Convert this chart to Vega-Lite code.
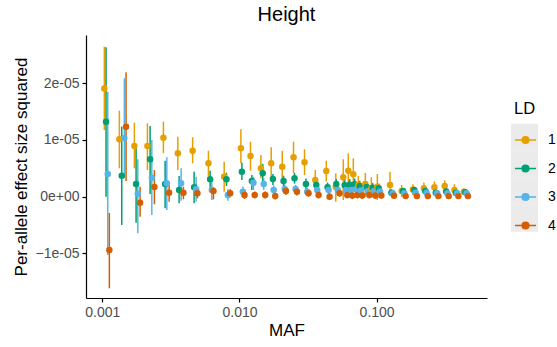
{
"$schema": "https://vega.github.io/schema/vega-lite/v6.json",
"width": 401,
"height": 263,
"autosize": {"type": "none"},
"padding": {"left": 86, "top": 35, "right": 70, "bottom": 49},
"background": "white",
"config": {"font": "Liberation Sans", "view": {"stroke": null}},
"title": {"text": "Height", "fontSize": 20, "fontWeight": "normal", "color": "black", "anchor": "middle", "offset": 10},
"data": {"values": [
{"ld":"1","maf":0.001034,"v":1.91e-5,"lo":1.176e-5,"hi":2.646e-5},
{"ld":"2","maf":0.001064,"v":1.32e-5,"lo":0,"hi":2.635e-5},
{"ld":"3","maf":0.001095,"v":0.40e-5,"lo":-1.028e-5,"hi":1.852e-5},
{"ld":"4","maf":0.001125,"v":-0.94e-5,"lo":-1.616e-5,"hi":-0.287e-5},
{"ld":"1","maf":0.001331,"v":1.012e-5,"lo":0.50e-5,"hi":1.517e-5},
{"ld":"2","maf":0.001385,"v":0.37e-5,"lo":-0.50e-5,"hi":1.235e-5},
{"ld":"3","maf":0.001447,"v":1.035e-5,"lo":0.33e-5,"hi":2.088e-5},
{"ld":"4","maf":0.001489,"v":1.235e-5,"lo":0.277e-5,"hi":2.194e-5},
{"ld":"1","maf":0.001712,"v":0.894e-5,"lo":0.50e-5,"hi":1.305e-5},
{"ld":"2","maf":0.001762,"v":0.224e-5,"lo":-0.459e-5,"hi":0.894e-5},
{"ld":"3","maf":0.001813,"v":0.05e-5,"lo":-0.645e-5,"hi":0.66e-5},
{"ld":"4","maf":0.001885,"v":-0.106e-5,"lo":-0.353e-5,"hi":0.176e-5},
{"ld":"1","maf":0.002131,"v":0.894e-5,"lo":0.47e-5,"hi":1.294e-5},
{"ld":"2","maf":0.002230,"v":0.66e-5,"lo":0.048e-5,"hi":1.247e-5},
{"ld":"3","maf":0.002295,"v":0.335e-5,"lo":-0.323e-5,"hi":1.0e-5},
{"ld":"4","maf":0.002397,"v":0.171e-5,"lo":-0.134e-5,"hi":0.47e-5},
{"ld":"1","maf":0.002788,"v":1.04e-5,"lo":0.767e-5,"hi":1.323e-5},
{"ld":"2","maf":0.002869,"v":0.224e-5,"lo":-0.205e-5,"hi":0.635e-5},
{"ld":"3","maf":0.002952,"v":0.236e-5,"lo":-0.235e-5,"hi":0.694e-5},
{"ld":"4","maf":0.003069,"v":0.071e-5,"lo":-0.088e-5,"hi":0.206e-5},
{"ld":"1","maf":0.003552,"v":0.765e-5,"lo":0.47e-5,"hi":1.058e-5},
{"ld":"2","maf":0.003630,"v":0.118e-5,"lo":-0.117e-5,"hi":0.365e-5},
{"ld":"3","maf":0.003754,"v":0.236e-5,"lo":-0.07e-5,"hi":0.50e-5},
{"ld":"4","maf":0.003901,"v":0.071e-5,"lo":-0.046e-5,"hi":0.176e-5},
{"ld":"1","maf":0.004553,"v":0.811e-5,"lo":0.589e-5,"hi":1.048e-5},
{"ld":"2","maf":0.004669,"v":0.166e-5,"lo":-0.117e-5,"hi":0.441e-5},
{"ld":"3","maf":0.004829,"v":0.13e-5,"lo":-0.088e-5,"hi":0.35e-5},
{"ld":"4","maf":0.004935,"v":0.06e-5,"lo":-0.03e-5,"hi":0.15e-5},
{"ld":"1","maf":0.005937,"v":0.589e-5,"lo":0.353e-5,"hi":0.811e-5},
{"ld":"2","maf":0.006109,"v":0.307e-5,"lo":0.148e-5,"hi":0.459e-5},
{"ld":"3","maf":0.006286,"v":0.118e-5,"lo":-0.06e-5,"hi":0.30e-5},
{"ld":"4","maf":0.006458,"v":0.10e-5,"lo":-0.046e-5,"hi":0.166e-5},
{"ld":"1","maf":0.007733,"v":0.353e-5,"lo":0.088e-5,"hi":0.617e-5},
{"ld":"2","maf":0.008038,"v":0.307e-5,"lo":0.189e-5,"hi":0.423e-5},
{"ld":"3","maf":0.008229,"v":0.03e-5,"lo":-0.07e-5,"hi":0.13e-5},
{"ld":"4","maf":0.008553,"v":0.06e-5,"lo":-0.01e-5,"hi":0.13e-5},
{"ld":"1","maf":0.01024,"v":0.854e-5,"lo":0.589e-5,"hi":1.189e-5},
{"ld":"2","maf":0.01041,"v":0.441e-5,"lo":0.295e-5,"hi":0.60e-5},
{"ld":"3","maf":0.01059,"v":0.088e-5,"lo":-0.01e-5,"hi":0.18e-5},
{"ld":"4","maf":0.01088,"v":0.03e-5,"lo":-0.04e-5,"hi":0.10e-5},
{"ld":"1","maf":0.01203,"v":0.718e-5,"lo":0.459e-5,"hi":0.97e-5},
{"ld":"2","maf":0.01231,"v":0.277e-5,"lo":0.118e-5,"hi":0.383e-5},
{"ld":"3","maf":0.01265,"v":0.247e-5,"lo":0.118e-5,"hi":0.353e-5},
{"ld":"4","maf":0.01291,"v":0.03e-5,"lo":-0.03e-5,"hi":0.09e-5},
{"ld":"1","maf":0.01433,"v":0.50e-5,"lo":0.325e-5,"hi":0.735e-5},
{"ld":"2","maf":0.01477,"v":0.413e-5,"lo":0.25e-5,"hi":0.58e-5},
{"ld":"3","maf":0.01502,"v":0.224e-5,"lo":0.12e-5,"hi":0.33e-5},
{"ld":"4","maf":0.01540,"v":0.03e-5,"lo":-0.03e-5,"hi":0.09e-5},
{"ld":"1","maf":0.01703,"v":0.589e-5,"lo":0.325e-5,"hi":0.871e-5},
{"ld":"2","maf":0.01753,"v":0.312e-5,"lo":0.206e-5,"hi":0.40e-5},
{"ld":"3","maf":0.01776,"v":0.118e-5,"lo":0.04e-5,"hi":0.20e-5},
{"ld":"4","maf":0.01822,"v":0.012e-5,"lo":-0.05e-5,"hi":0.07e-5},
{"ld":"1","maf":0.02050,"v":0.529e-5,"lo":0.295e-5,"hi":0.811e-5},
{"ld":"2","maf":0.02095,"v":0.277e-5,"lo":0.18e-5,"hi":0.37e-5},
{"ld":"3","maf":0.02138,"v":0.136e-5,"lo":0.05e-5,"hi":0.22e-5},
{"ld":"4","maf":0.02182,"v":0.10e-5,"lo":0.03e-5,"hi":0.17e-5},
{"ld":"1","maf":0.02478,"v":0.695e-5,"lo":0.413e-5,"hi":0.97e-5},
{"ld":"2","maf":0.02520,"v":0.325e-5,"lo":0.23e-5,"hi":0.42e-5},
{"ld":"3","maf":0.02563,"v":0.136e-5,"lo":0.06e-5,"hi":0.21e-5},
{"ld":"4","maf":0.02624,"v":0.088e-5,"lo":0.02e-5,"hi":0.15e-5},
{"ld":"1","maf":0.02981,"v":0.607e-5,"lo":0.383e-5,"hi":0.836e-5},
{"ld":"2","maf":0.03052,"v":0.224e-5,"lo":0.13e-5,"hi":0.32e-5},
{"ld":"3","maf":0.03119,"v":0.088e-5,"lo":0.01e-5,"hi":0.16e-5},
{"ld":"4","maf":0.03188,"v":0.06e-5,"lo":0,"hi":0.12e-5},
{"ld":"1","maf":0.03570,"v":0.295e-5,"lo":0.118e-5,"hi":0.471e-5},
{"ld":"2","maf":0.03631,"v":0.206e-5,"lo":0.12e-5,"hi":0.29e-5},
{"ld":"3","maf":0.03692,"v":0.118e-5,"lo":0.05e-5,"hi":0.19e-5},
{"ld":"4","maf":0.03773,"v":0.03e-5,"lo":-0.03e-5,"hi":0.09e-5},
{"ld":"1","maf":0.04294,"v":0.453e-5,"lo":0.265e-5,"hi":0.635e-5},
{"ld":"2","maf":0.04389,"v":0.166e-5,"lo":0.08e-5,"hi":0.25e-5},
{"ld":"3","maf":0.04463,"v":0.118e-5,"lo":0.05e-5,"hi":0.18e-5},
{"ld":"4","maf":0.04539,"v":0,"lo":-0.06e-5,"hi":0.06e-5},
{"ld":"1","maf":0.05039,"v":0.171e-5,"lo":-0.088e-5,"hi":0.413e-5},
{"ld":"2","maf":0.05081,"v":0.224e-5,"lo":0.14e-5,"hi":0.31e-5},
{"ld":"3","maf":0.05211,"v":0.118e-5,"lo":0.05e-5,"hi":0.18e-5},
{"ld":"4","maf":0.05370,"v":0.06e-5,"lo":0,"hi":0.12e-5},
{"ld":"1","maf":0.05713,"v":0.342e-5,"lo":-0.058e-5,"hi":0.66e-5},
{"ld":"2","maf":0.05849,"v":0.20e-5,"lo":0.10e-5,"hi":0.30e-5},
{"ld":"3","maf":0.05979,"v":0.12e-5,"lo":0.05e-5,"hi":0.19e-5},
{"ld":"4","maf":0.06109,"v":0.03e-5,"lo":-0.03e-5,"hi":0.09e-5},
{"ld":"1","maf":0.06215,"v":0.459e-5,"lo":0.088e-5,"hi":0.765e-5},
{"ld":"2","maf":0.06363,"v":0.21e-5,"lo":0.11e-5,"hi":0.31e-5},
{"ld":"3","maf":0.06504,"v":0.12e-5,"lo":0.05e-5,"hi":0.19e-5},
{"ld":"4","maf":0.06646,"v":0.02e-5,"lo":-0.04e-5,"hi":0.08e-5},
{"ld":"1","maf":0.06760,"v":0.395e-5,"lo":0.118e-5,"hi":0.677e-5},
{"ld":"2","maf":0.06921,"v":0.22e-5,"lo":0.12e-5,"hi":0.32e-5},
{"ld":"3","maf":0.07075,"v":0.13e-5,"lo":0.06e-5,"hi":0.20e-5},
{"ld":"4","maf":0.07229,"v":0.03e-5,"lo":-0.03e-5,"hi":0.09e-5},
{"ld":"1","maf":0.07352,"v":0.206e-5,"lo":0.03e-5,"hi":0.365e-5},
{"ld":"2","maf":0.07527,"v":0.19e-5,"lo":0.10e-5,"hi":0.28e-5},
{"ld":"3","maf":0.07694,"v":0.11e-5,"lo":0.04e-5,"hi":0.18e-5},
{"ld":"4","maf":0.07861,"v":0.02e-5,"lo":-0.04e-5,"hi":0.08e-5},
{"ld":"1","maf":0.08270,"v":0.224e-5,"lo":0,"hi":0.418e-5},
{"ld":"2","maf":0.08466,"v":0.17e-5,"lo":0.08e-5,"hi":0.26e-5},
{"ld":"3","maf":0.08655,"v":0.10e-5,"lo":0.03e-5,"hi":0.17e-5},
{"ld":"4","maf":0.08843,"v":0.03e-5,"lo":-0.03e-5,"hi":0.09e-5},
{"ld":"1","maf":0.09149,"v":0.148e-5,"lo":0.012e-5,"hi":0.342e-5},
{"ld":"2","maf":0.09366,"v":0.16e-5,"lo":0.08e-5,"hi":0.24e-5},
{"ld":"3","maf":0.09575,"v":0.10e-5,"lo":0.03e-5,"hi":0.17e-5},
{"ld":"4","maf":0.09783,"v":0.02e-5,"lo":-0.04e-5,"hi":0.08e-5},
{"ld":"1","maf":0.1012,"v":0.176e-5,"lo":-0.058e-5,"hi":0.40e-5},
{"ld":"2","maf":0.1036,"v":0.15e-5,"lo":0.07e-5,"hi":0.23e-5},
{"ld":"3","maf":0.1059,"v":0.09e-5,"lo":0.03e-5,"hi":0.15e-5},
{"ld":"4","maf":0.1082,"v":0.02e-5,"lo":-0.03e-5,"hi":0.07e-5},
{"ld":"1","maf":0.1252,"v":0.206e-5,"lo":0.088e-5,"hi":0.441e-5},
{"ld":"2","maf":0.1282,"v":0.07e-5,"lo":0.01e-5,"hi":0.13e-5},
{"ld":"3","maf":0.1311,"v":0.06e-5,"lo":0.01e-5,"hi":0.11e-5},
{"ld":"4","maf":0.1339,"v":0.015e-5,"lo":-0.02e-5,"hi":0.05e-5},
{"ld":"1","maf":0.1522,"v":0.10e-5,"lo":-0.005e-5,"hi":0.206e-5},
{"ld":"2","maf":0.1558,"v":0.10e-5,"lo":0.05e-5,"hi":0.15e-5},
{"ld":"3","maf":0.1593,"v":0.06e-5,"lo":0.02e-5,"hi":0.10e-5},
{"ld":"4","maf":0.1628,"v":0.01e-5,"lo":-0.02e-5,"hi":0.04e-5},
{"ld":"1","maf":0.1838,"v":0.127e-5,"lo":0.03e-5,"hi":0.22e-5},
{"ld":"2","maf":0.1882,"v":0.12e-5,"lo":0.07e-5,"hi":0.17e-5},
{"ld":"3","maf":0.1924,"v":0.07e-5,"lo":0.03e-5,"hi":0.11e-5},
{"ld":"4","maf":0.1966,"v":0.01e-5,"lo":-0.02e-5,"hi":0.04e-5},
{"ld":"1","maf":0.2211,"v":0.148e-5,"lo":0.05e-5,"hi":0.25e-5},
{"ld":"2","maf":0.2263,"v":0.10e-5,"lo":0.06e-5,"hi":0.14e-5},
{"ld":"3","maf":0.2313,"v":0.07e-5,"lo":0.03e-5,"hi":0.11e-5},
{"ld":"4","maf":0.2364,"v":0.01e-5,"lo":-0.02e-5,"hi":0.04e-5},
{"ld":"1","maf":0.2638,"v":0.166e-5,"lo":0.065e-5,"hi":0.27e-5},
{"ld":"2","maf":0.2701,"v":0.07e-5,"lo":0.03e-5,"hi":0.11e-5},
{"ld":"3","maf":0.2761,"v":0.06e-5,"lo":0.02e-5,"hi":0.10e-5},
{"ld":"4","maf":0.2821,"v":0.01e-5,"lo":-0.02e-5,"hi":0.04e-5},
{"ld":"1","maf":0.3136,"v":0.189e-5,"lo":0.09e-5,"hi":0.29e-5},
{"ld":"2","maf":0.3211,"v":0.09e-5,"lo":0.05e-5,"hi":0.13e-5},
{"ld":"3","maf":0.3282,"v":0.06e-5,"lo":0.02e-5,"hi":0.10e-5},
{"ld":"4","maf":0.3353,"v":0.01e-5,"lo":-0.02e-5,"hi":0.04e-5},
{"ld":"1","maf":0.3692,"v":0.118e-5,"lo":0.02e-5,"hi":0.22e-5},
{"ld":"2","maf":0.3780,"v":0.07e-5,"lo":0.03e-5,"hi":0.11e-5},
{"ld":"3","maf":0.3864,"v":0.06e-5,"lo":0.02e-5,"hi":0.10e-5},
{"ld":"4","maf":0.3948,"v":0.01e-5,"lo":-0.02e-5,"hi":0.04e-5},
{"ld":"1","maf":0.4330,"v":0.088e-5,"lo":0.03e-5,"hi":0.15e-5},
{"ld":"2","maf":0.4433,"v":0.08e-5,"lo":0.04e-5,"hi":0.12e-5},
{"ld":"3","maf":0.4532,"v":0.06e-5,"lo":0.02e-5,"hi":0.10e-5},
{"ld":"4","maf":0.4630,"v":0.01e-5,"lo":-0.02e-5,"hi":0.04e-5}
]},
"encoding": {
  "x": {"field": "maf", "type": "quantitative",
    "scale": {"type": "log", "domain": [0.00076, 0.638], "nice": false},
    "axis": {"values": [0.001, 0.01, 0.1], "format": ".3f", "title": "MAF", "grid": false,
      "domainColor": "black", "domainWidth": 1.2, "tickColor": "black", "tickWidth": 1.2, "tickSize": 4,
      "labelColor": "#4D4D4D", "labelFontSize": 14, "labelPadding": 3, "labelFont": "Liberation Sans",
      "titleFontSize": 17, "titleFontWeight": "normal", "titleColor": "black", "titlePadding": 3, "titleFont": "Liberation Sans"}}
},
"layer": [
  {"mark": {"type": "rule", "color": "black", "strokeWidth": 1.5},
   "encoding": {"y": {"datum": 0}}},
  {"mark": {"type": "point", "shape": "square", "opacity": 0, "filled": true, "color": "#EBEBEB", "strokeWidth": 0},
   "encoding": {
     "y": {"field": "v", "type": "quantitative"},
     "shape": {"field": "ld", "type": "nominal",
       "scale": {"domain": ["4","3","2","1"], "range": ["square","square","square","square"]},
       "legend": {"title": " ", "orient": "none", "legendX": 425, "legendY": 61.25, "padding": 0, "zindex": 1,
         "titleFontSize": 16.5, "titleFontWeight": "normal", "titleColor": "black", "titlePadding": 11,
         "labelFontSize": 14, "labelExpr": "''", "symbolSize": 729, "rowPadding": 0,
         "symbolFillColor": "#EBEBEB", "symbolStrokeColor": "#EBEBEB", "symbolStrokeWidth": 0, "symbolOpacity": 1}}}},
  {"mark": {"type": "rule", "strokeWidth": 1.5},
   "encoding": {
     "y": {"field": "lo", "type": "quantitative",
       "scale": {"domain": [-1.787e-5, 2.852e-5], "nice": false, "zero": false},
       "axis": {"values": [-1e-5, 0, 1e-5, 2e-5], "grid": false,
         "labelExpr": "datum.value == 0 ? '0e+00' : format(datum.value * 1e5, 'd') + 'e-05'",
         "title": "Per-allele effect size squared",
         "domainColor": "black", "domainWidth": 1.2, "tickColor": "black", "tickWidth": 1.2, "tickSize": 4,
         "labelColor": "#4D4D4D", "labelFontSize": 14, "labelPadding": 3, "labelFont": "Liberation Sans",
         "titleFontSize": 17, "titleFontWeight": "normal", "titleColor": "black", "titlePadding": 5, "titleFont": "Liberation Sans"}},
     "y2": {"field": "hi"},
     "color": {"field": "ld", "type": "nominal",
       "scale": {"domain": ["1","2","3","4"], "range": ["#E69F00","#009E73","#56B4E9","#D55E00"]},
       "legend": {"title": "LD", "orient": "none", "legendX": 428, "legendY": 66, "padding": 0, "zindex": 2,
         "titleFontSize": 16.5, "titleFontWeight": "normal", "titleColor": "black", "titlePadding": 11,
         "labelFontSize": 14, "labelColor": "black", "labelOffset": 11,
         "symbolType": "M-1,0H1M-0.32,0A0.32,0.32 0 1,0 0.32,0A0.32,0.32 0 1,0 -0.32,0Z",
         "symbolSize": 441, "symbolStrokeWidth": 1.5, "rowPadding": 9.5,
         "encode": {"symbols": {"update": {"stroke": {"scale": "color", "field": "value"}, "fill": {"scale": "color", "field": "value"}, "strokeWidth": {"value": 1.5}, "opacity": {"value": 1}, "fillOpacity": {"value": 1}}}}}}}},
  {"mark": {"type": "point", "filled": true, "size": 42, "opacity": 1},
   "encoding": {"y": {"field": "v", "type": "quantitative"},
     "color": {"field": "ld", "type": "nominal"}}}
]
}
